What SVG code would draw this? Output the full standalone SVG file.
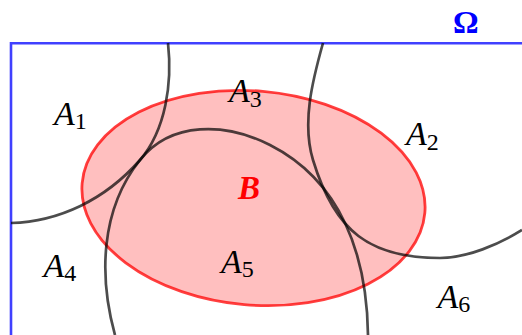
<svg xmlns="http://www.w3.org/2000/svg" width="522" height="335" viewBox="0 0 522 335">
<style>
.frame{fill:none;stroke:#0000ff;stroke-opacity:0.75;stroke-width:2.6}
.curve{fill:none;stroke:#000;stroke-opacity:0.7;stroke-width:2.7}
.setB{fill:#ff0000;fill-opacity:0.25;stroke:#ff0000;stroke-opacity:0.75;stroke-width:2.8}
.lbl{font-family:"Liberation Serif",serif;font-style:italic;font-size:34px;fill:#000}
.sub{font-style:normal;font-size:24px}
</style>
<g id="omega">
<path class="frame" d="M522,43.3 H11 V335"/>
<text x="465.7" y="33" text-anchor="middle" font-family="Liberation Serif,serif" font-weight="bold" font-size="32" fill="#0000ff">Ω</text>
</g>
<g id="B">
<ellipse class="setB" cx="253.5" cy="198" rx="172" ry="107" transform="rotate(5 253.5 198)"/>
<text x="238" y="199" font-family="Liberation Serif,serif" font-weight="bold" font-style="italic" font-size="33" fill="#ff0000">B</text>
</g>
<g id="connectors">
<path class="curve" d="M168,43 C172.4,82.6 166,129.6 140,160 C105,200 59,221.5 11,223"/>
<path class="curve" d="M115,335 C99,277 100,210 140,160 C171,121 225.5,122.5 270,145 C341,181 367,255 368,335"/>
<path class="curve" d="M323,43 C312.5,80.4 301.7,122.6 313,160 C334.8,232 370,258 440,258 C467,258 499,244.3 522,230"/>
</g>
<g id="A1"><text class="lbl" x="54" y="125">A<tspan class="sub" dy="4">1</tspan></text></g>
<g id="A2"><text class="lbl" x="406" y="145">A<tspan class="sub" dy="5">2</tspan></text></g>
<g id="A3"><text class="lbl" x="229" y="101.5">A<tspan class="sub" dy="5">3</tspan></text></g>
<g id="A4"><text class="lbl" x="43.5" y="276.5">A<tspan class="sub" dy="4">4</tspan></text></g>
<g id="A5"><text class="lbl" x="221" y="273">A<tspan class="sub" dy="4">5</tspan></text></g>
<g id="A6"><text class="lbl" x="437.5" y="308">A<tspan class="sub" dy="4">6</tspan></text></g>
</svg>
